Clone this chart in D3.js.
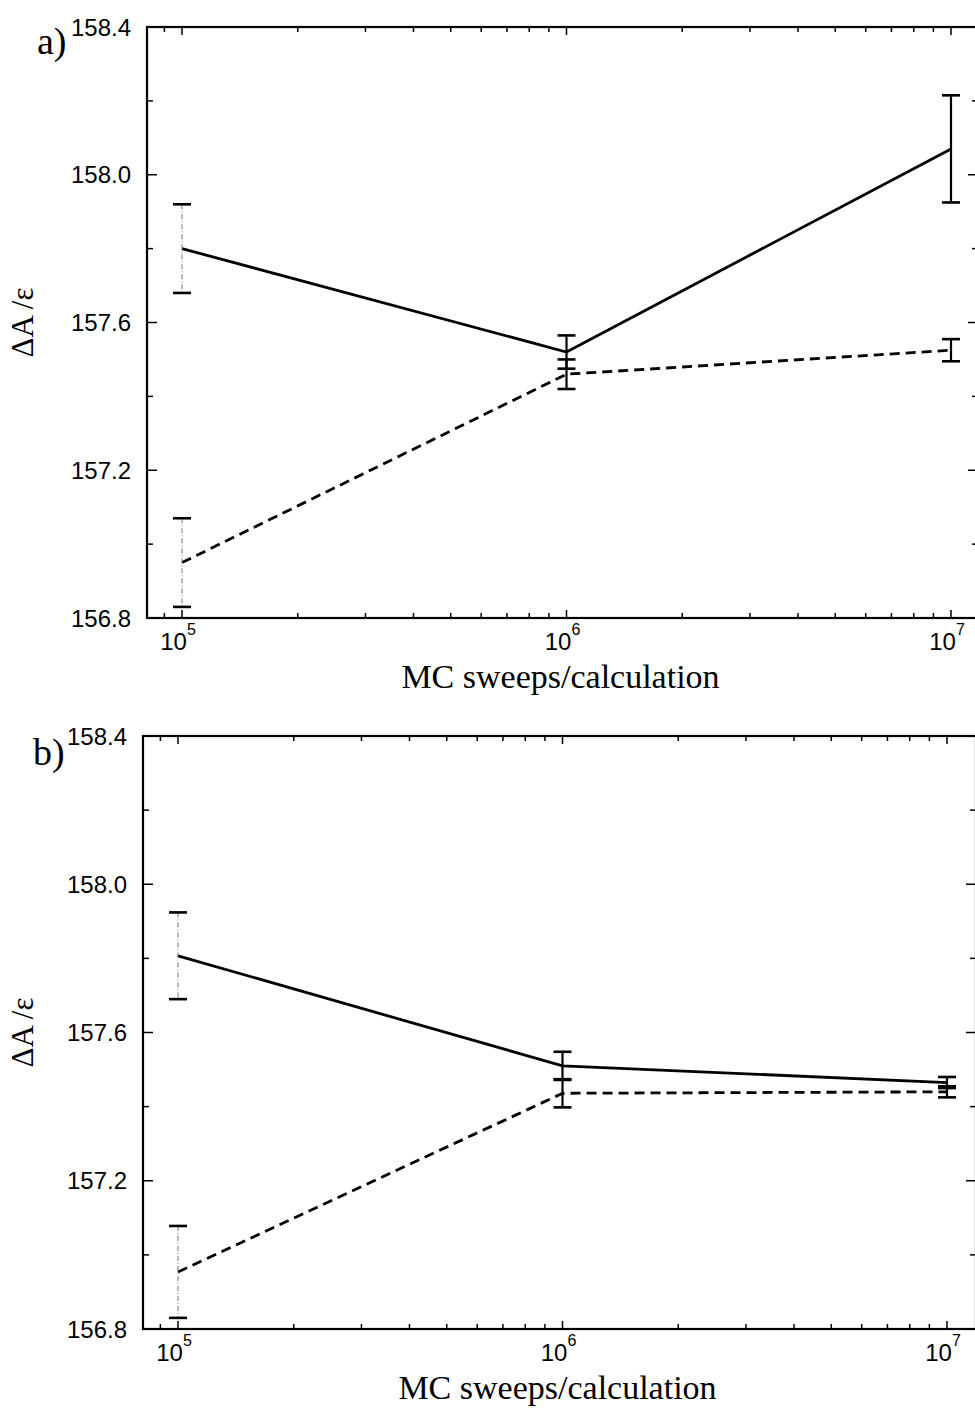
<!DOCTYPE html>
<html>
<head>
<meta charset="utf-8">
<script src="https://cdn.jsdelivr.net/npm/d3@7"></script>
<style>
  html, body { margin: 0; padding: 0; background: #fff; }
  svg { display: block; }
</style>
</head>
<body>
<script>
// ---------------- data ----------------
const sweeps = [1e5, 1e6, 1e7];

const panelA_solid      = [157.80, 157.52, 158.07];
const panelA_solidErr   = [0.12, 0.045, 0.145];
const panelA_dashed     = [156.95, 157.46, 157.525];
const panelA_dashedErr  = [0.12, 0.04, 0.03];

const panelB_solid      = [157.807, 157.51, 157.465];
const panelB_solidErr   = [0.117, 0.038, 0.015];
const panelB_dashed     = [156.954, 157.436, 157.44];
const panelB_dashedErr  = [0.124, 0.038, 0.015];

const yMajorTicks = [156.8, 157.2, 157.6, 158.0, 158.4];
const yMinorTicks = [157.0, 157.4, 157.8, 158.2];
const yDomain = [156.8, 158.4];
const xLabelBase = "10";
const xLabelExps = ["5", "6", "7"];
const panelLabels = ["a)", "b)"];
const xTitle = "MC sweeps/calculation";
const yTitle = "ΔA /ε";

// ---------------- layout ----------------
const W = 975, H = 1408;
const svg = d3.select("body").append("svg").attr("width", W).attr("height", H);

const panels = [
  { label: panelLabels[0], solid: panelA_solid, solidErr: panelA_solidErr, dashed: panelA_dashed, dashedErr: panelA_dashedErr,
    left: 147, right: 978, top: 27, bottom: 618, x5: 182, x7: 951, labelX: 37, labelY: 54 },
  { label: panelLabels[1], solid: panelB_solid, solidErr: panelB_solidErr, dashed: panelB_dashed, dashedErr: panelB_dashedErr,
    left: 143, right: 976, top: 736, bottom: 1329, x5: 178, x7: 947, labelX: 33, labelY: 765 }
];

const sansFont = "'Liberation Sans', Arial, Helvetica, sans-serif";
const serifFont = "'Liberation Serif', 'Times New Roman', serif";

panels.forEach(p => {
  const g = svg.append("g");
  const x = d3.scaleLog().domain([sweeps[0], sweeps[2]]).range([p.x5, p.x7]);
  const y = d3.scaleLinear().domain(yDomain).range([p.bottom, p.top]);

  // frame
  g.append("rect")
    .attr("x", p.left).attr("y", p.top)
    .attr("width", p.right - p.left).attr("height", p.bottom - p.top)
    .attr("fill", "none").attr("stroke", "#000").attr("stroke-width", 2.2);

  // x ticks (log, major + minor), inward on bottom & top
  const xt = [];
  for (let e = 4; e <= 7; e++) {
    for (let m = 1; m <= 9; m++) {
      const v = m * Math.pow(10, e);
      const px = x(v);
      if (px > p.left + 2 && px < p.right - 2) xt.push({ v, major: m === 1 });
    }
  }
  xt.forEach(t => {
    const px = x(t.v), len = t.major ? 8 : 5;
    g.append("line").attr("x1", px).attr("x2", px).attr("y1", p.bottom).attr("y2", p.bottom - len)
      .attr("stroke", "#000").attr("stroke-width", 1.5);
    g.append("line").attr("x1", px).attr("x2", px).attr("y1", p.top).attr("y2", p.top + len)
      .attr("stroke", "#000").attr("stroke-width", 1.5);
  });

  // y ticks
  const yt = yMajorTicks.map(v => ({ v, major: true })).concat(yMinorTicks.map(v => ({ v, major: false })));
  yt.forEach(t => {
    const py = y(t.v), len = t.major ? 10 : 6;
    g.append("line").attr("x1", p.left).attr("x2", p.left + len).attr("y1", py).attr("y2", py)
      .attr("stroke", "#000").attr("stroke-width", 1.5);
    g.append("line").attr("x1", p.right).attr("x2", p.right - len).attr("y1", py).attr("y2", py)
      .attr("stroke", "#000").attr("stroke-width", 1.5);
  });

  // y tick labels
  g.selectAll("text.ylab").data(yMajorTicks).enter().append("text")
    .attr("class", "ylab")
    .attr("x", p.left - 16).attr("y", d => y(d))
    .attr("dy", "0.36em")
    .attr("text-anchor", "end")
    .style("font-family", sansFont).style("font-size", "24px")
    .text(d3.format(".1f"));

  // x tick labels 10^n
  sweeps.forEach((v, i) => {
    const t = g.append("text")
      .attr("x", x(Math.pow(10, 5 + i)) - 4).attr("y", p.bottom + 32)
      .attr("text-anchor", "middle")
      .style("font-family", sansFont).style("font-size", "24px");
    t.append("tspan").text(xLabelBase);
    t.append("tspan").attr("dy", -15).style("font-size", "16px").text(xLabelExps[i]);
  });

  // axis titles
  g.append("text")
    .attr("x", (p.left + p.right) / 2 - 2).attr("y", p.bottom + 70)
    .attr("text-anchor", "middle")
    .style("font-family", serifFont).style("font-size", "34px")
    .text(xTitle);
  g.append("text")
    .attr("transform", `translate(33,${(p.top + p.bottom) / 2}) rotate(-90)`)
    .attr("text-anchor", "middle")
    .style("font-family", serifFont).style("font-size", "31px")
    .text(yTitle);

  // panel label
  g.append("text")
    .attr("x", p.labelX).attr("y", p.labelY)
    .style("font-family", serifFont).style("font-size", "38px")
    .text(p.label);

  // lines
  const line = d3.line().x((d, i) => x(sweeps[i])).y(d => y(d));
  g.append("path").datum(p.solid).attr("d", line)
    .attr("fill", "none").attr("stroke", "#000").attr("stroke-width", 2.8);
  g.append("path").datum(p.dashed).attr("d", line)
    .attr("fill", "none").attr("stroke", "#000").attr("stroke-width", 2.8)
    .attr("stroke-dasharray", "10,6");

  // error bars
  const capHalf = 9;
  [[p.solid, p.solidErr], [p.dashed, p.dashedErr]].forEach(([vals, errs]) => {
    vals.forEach((v, i) => {
      const px = x(sweeps[i]);
      const y1 = y(v + errs[i]), y2 = y(v - errs[i]);
      const thin = i === 0;
      g.append("line").attr("x1", px).attr("x2", px).attr("y1", y1).attr("y2", y2)
        .attr("stroke", thin ? "#777" : "#000")
        .attr("stroke-width", thin ? 1 : 2.2)
        .attr("stroke-dasharray", thin ? "5,2,1,2" : null);
      [y1, y2].forEach(cy => {
        g.append("line").attr("x1", px - capHalf).attr("x2", px + capHalf).attr("y1", cy).attr("y2", cy)
          .attr("stroke", "#000").attr("stroke-width", 2.6);
      });
    });
  });
});
</script>
</body>
</html>
